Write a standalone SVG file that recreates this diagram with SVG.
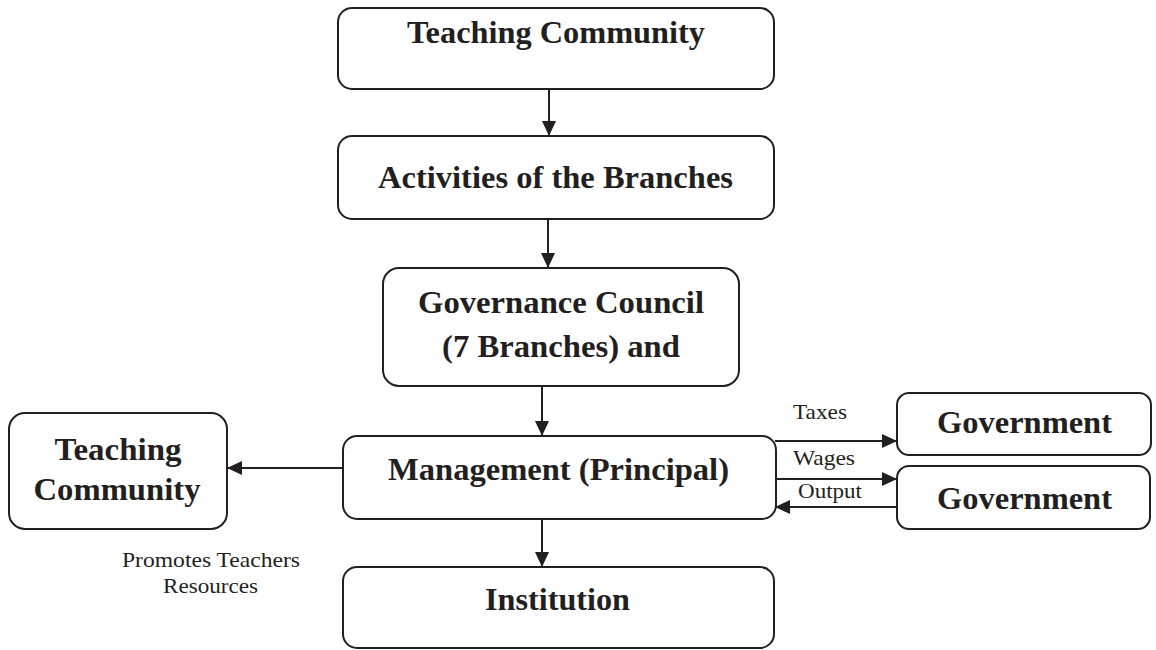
<svg xmlns="http://www.w3.org/2000/svg" width="1156" height="650" viewBox="0 0 1156 650">
<style>
.box{fill:#fff;stroke:#231f20;stroke-width:2}
.b{font-family:'Liberation Serif','Times New Roman',Times,serif;font-weight:bold;font-size:31px;fill:#231f20;text-anchor:middle}
.r{font-family:'Liberation Serif','Times New Roman',Times,serif;font-size:21px;fill:#231f20;text-anchor:middle}
.c{stroke:#231f20;stroke-width:2;fill:none;marker-end:url(#ah)}
</style>
<defs>
<marker id="ah" markerUnits="userSpaceOnUse" markerWidth="16" markerHeight="14" refX="15" refY="7" orient="auto">
<path d="M0,0 L15,7 L0,14 Z" fill="#231f20"/>
</marker>
</defs>
<rect width="1156" height="650" fill="#fff"/>
<g id="connectors">
<line class="c" x1="549" y1="89" x2="549" y2="136"/>
<line class="c" x1="548" y1="219" x2="548" y2="268"/>
<line class="c" x1="542" y1="386" x2="542" y2="436"/>
<line class="c" x1="542" y1="519" x2="542" y2="567"/>
<line class="c" x1="343" y1="468" x2="227" y2="468"/>
<line class="c" x1="775" y1="441" x2="897" y2="441"/>
<line class="c" x1="775" y1="479" x2="897" y2="479"/>
<line class="c" x1="897" y1="507" x2="775" y2="507"/>
</g>
<g id="n1"><rect class="box" x="338" y="8" width="436" height="81" rx="14"/><text class="b" x="556" y="43" textLength="298" lengthAdjust="spacingAndGlyphs">Teaching Community</text></g>
<g id="n2"><rect class="box" x="338" y="136" width="436" height="83" rx="14"/><text class="b" x="555.5" y="188" textLength="355" lengthAdjust="spacingAndGlyphs">Activities of the Branches</text></g>
<g id="n3"><rect class="box" x="383" y="268" width="356" height="118" rx="16"/><text class="b" x="561" y="313" textLength="286" lengthAdjust="spacingAndGlyphs">Governance Council</text><text class="b" x="561" y="357" textLength="238" lengthAdjust="spacingAndGlyphs">(7 Branches) and</text></g>
<g id="n4"><rect class="box" x="343" y="436" width="433" height="83" rx="14"/><text class="b" x="558.5" y="480" textLength="341" lengthAdjust="spacingAndGlyphs">Management (Principal)</text></g>
<g id="n5"><rect class="box" x="343" y="567" width="431" height="81" rx="14"/><text class="b" x="557.5" y="610" textLength="145" lengthAdjust="spacingAndGlyphs">Institution</text></g>
<g id="n6"><rect class="box" x="9" y="413" width="218" height="116" rx="16"/><text class="b" x="118" y="460" textLength="127" lengthAdjust="spacingAndGlyphs">Teaching</text><text class="b" x="117" y="500" textLength="167" lengthAdjust="spacingAndGlyphs">Community</text></g>
<g id="n7"><rect class="box" x="897" y="393" width="254" height="62" rx="12"/><text class="b" x="1024.5" y="433" textLength="175" lengthAdjust="spacingAndGlyphs">Government</text></g>
<g id="n8"><rect class="box" x="897" y="466" width="253" height="63" rx="12"/><text class="b" x="1024.5" y="509" textLength="175" lengthAdjust="spacingAndGlyphs">Government</text></g>
<g id="labels">
<text class="r" x="820" y="419" textLength="54" lengthAdjust="spacingAndGlyphs">Taxes</text>
<text class="r" x="824" y="465" textLength="62" lengthAdjust="spacingAndGlyphs">Wages</text>
<text class="r" x="830" y="498" textLength="64" lengthAdjust="spacingAndGlyphs">Output</text>
<text class="r" x="211" y="567" textLength="178" lengthAdjust="spacingAndGlyphs">Promotes Teachers</text>
<text class="r" x="210.5" y="593" textLength="95" lengthAdjust="spacingAndGlyphs">Resources</text>
</g>
</svg>
